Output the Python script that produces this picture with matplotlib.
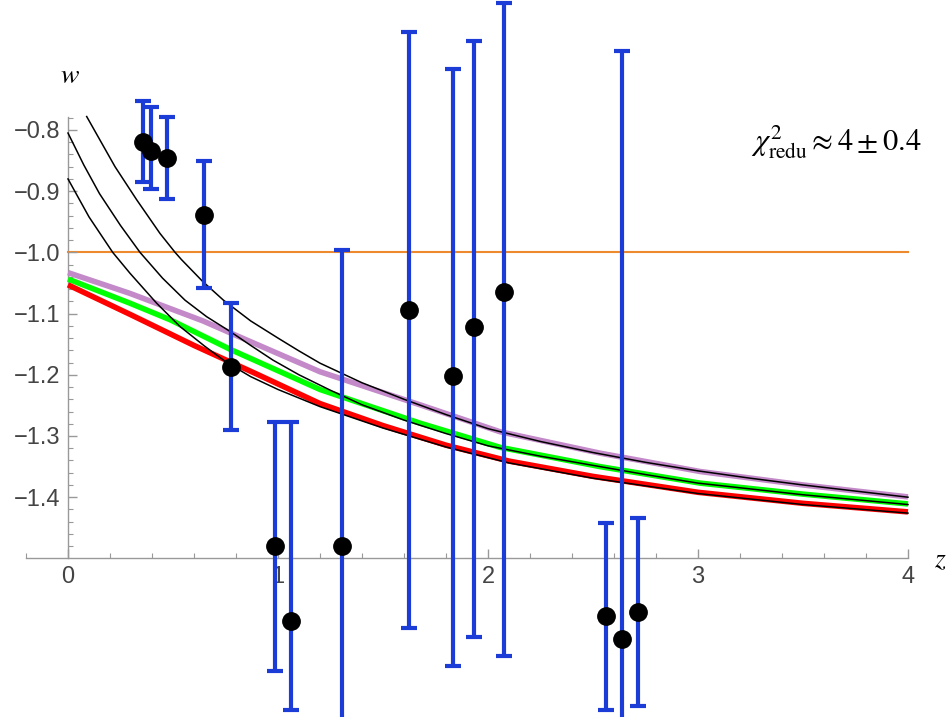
import matplotlib
matplotlib.use("Agg")
import matplotlib.pyplot as plt
import numpy as np
from matplotlib.ticker import FixedLocator, FuncFormatter

plt.rcParams['mathtext.fontset'] = 'stix'
plt.rcParams['font.family'] = ['Liberation Sans', 'DejaVu Sans']
plt.rcParams['xtick.labelsize'] = 17
plt.rcParams['ytick.labelsize'] = 17
plt.rcParams['axes.unicode_minus'] = True

# ---- data ----
z_pts = [0.356, 0.394, 0.470, 0.648, 0.776, 0.986, 1.060, 1.306, 1.624, 1.835, 1.933, 2.076, 2.560, 2.636, 2.713]
w_pts = [-0.819, -0.834, -0.845, -0.939, -1.187, -1.480, -1.602, -1.480, -1.094, -1.202, -1.122, -1.065, -1.594, -1.632, -1.588]
w_high = [-0.7526, -0.763, -0.779, -0.850, -1.083, -1.2766, -1.2766, -0.996, -0.6394, -0.7003, -0.654, -0.593, -1.4416, -0.6704, -1.4346]
w_low = [-0.8855, -0.897, -0.913, -1.0577, -1.290, -1.6835, -1.748, -1.963, -1.614, -1.675, -1.629, -1.660, -1.748, -2.600, -1.7407]

z_purple = [0, 0.295, 0.643, 0.776, 1.2, 1.676, 2.057, 2.533, 3.01, 3.5, 4.0]
w_purple = [-1.033, -1.067, -1.112, -1.132, -1.195, -1.249, -1.293, -1.328, -1.358, -1.380, -1.3995]

z_green = [0, 0.295, 0.486, 0.776, 1.2, 1.676, 2.057, 2.533, 3.01, 3.5, 4.0]
w_green = [-1.0435, -1.083, -1.110, -1.159, -1.224, -1.279, -1.3185, -1.350, -1.377, -1.395, -1.411]

z_red = [0, 0.3, 0.6, 0.9, 1.2, 1.5, 1.8, 2.1, 2.5, 3.0, 3.5, 4.0]
w_red = [-1.053, -1.102, -1.152, -1.199, -1.247, -1.283, -1.315, -1.341, -1.366, -1.392, -1.410, -1.424]

z_blackA = [0.089, 0.224, 0.327, 0.438, 0.51, 0.541, 0.64, 0.74, 0.87, 1.0, 1.1, 1.2, 1.4, 1.6,
            1.8, 2.0, 2.25, 2.5, 2.75, 3.0, 3.25, 3.5, 3.75, 4.0]
w_blackA = [-0.778, -0.860, -0.914, -0.969, -1.0, -1.012, -1.047, -1.078, -1.112, -1.140, -1.161, -1.181,
            -1.213, -1.240, -1.265, -1.288, -1.309, -1.327, -1.343, -1.357, -1.369, -1.380, -1.390, -1.400]

z_blackB = [0, 0.075, 0.15, 0.25, 0.343, 0.45, 0.557, 0.66, 0.771, 0.87, 0.976, 1.1, 1.248, 1.4, 1.6,
            1.8, 2.0, 2.25, 2.5, 2.75, 3.0, 3.5, 4.0]
w_blackB = [-0.805, -0.857, -0.904, -0.956, -1.0, -1.042, -1.078, -1.105, -1.129, -1.152, -1.176, -1.200,
            -1.225, -1.249, -1.274, -1.296, -1.316, -1.333, -1.348, -1.363, -1.377, -1.396, -1.412]

z_blackC = [0, 0.1, 0.213, 0.295, 0.422, 0.533, 0.65, 0.756, 0.87, 1.0, 1.2, 1.5, 1.8, 2.1, 2.5,
            3.0, 3.5, 4.0]
w_blackC = [-0.880, -0.942, -1.0, -1.034, -1.083, -1.121, -1.153, -1.180, -1.203, -1.224, -1.252,
            -1.287, -1.318, -1.344, -1.369, -1.394, -1.412, -1.426]

z_const = [0, 4]
w_const = [-1.0, -1.0]

x_major = [0, 1, 2, 3, 4]
y_major = [-1.4, -1.3, -1.2, -1.1, -1.0, -0.9, -0.8]

# ---- figure ----
fig = plt.figure(figsize=(9.51, 7.17), dpi=100)
ax = fig.add_axes([0, 0, 1, 1])
ax.set_xlim(-68 / 210, 883 / 210)
ax.set_ylim(-0.8 - 587 / 612, -0.8 + 130 / 612)

ax.plot(z_const, w_const, color='#EE8A2E', lw=1.5, zorder=1)

ax.plot(z_purple, w_purple, color='#C389C9', lw=4.0, solid_capstyle='butt', zorder=2)
ax.plot(z_green, w_green, color='#00FF00', lw=4.0, solid_capstyle='butt', zorder=2)
ax.plot(z_red, w_red, color='#FF0000', lw=4.0, solid_capstyle='butt', zorder=2)

for zz, ww in [(z_blackA, w_blackA), (z_blackB, w_blackB), (z_blackC, w_blackC)]:
    ax.plot(zz, ww, color='black', lw=1.1, zorder=3)

w_arr = np.array(w_pts)
yerr = [w_arr - np.array(w_low), np.array(w_high) - w_arr]
ax.errorbar(z_pts, w_pts, yerr=yerr, fmt='none', ecolor='#1C3CD8', elinewidth=3.0,
            capsize=5.8, capthick=3.0, zorder=4, clip_on=False)
ax.plot(z_pts, w_pts, 'o', color='black', markersize=12.5, zorder=5)

# axes styling
for s in ['top', 'right']:
    ax.spines[s].set_visible(False)
ax.spines['left'].set_position(('data', 0))
ax.spines['bottom'].set_position(('data', -1.5))
ax.spines['left'].set_bounds(-1.5, -0.778)
ax.spines['bottom'].set_bounds(-0.2, 4.0)
for s in ['left', 'bottom']:
    ax.spines[s].set_color('#999999')
    ax.spines[s].set_linewidth(1.0)
    ax.spines[s].set_zorder(0.5)

ax.xaxis.set_major_locator(FixedLocator(x_major))
ax.xaxis.set_minor_locator(FixedLocator(np.round(np.arange(-0.2, 4.001, 0.2), 3)))
ax.yaxis.set_major_locator(FixedLocator(y_major))
ax.yaxis.set_minor_locator(FixedLocator(np.round(np.arange(-1.48, -0.779, 0.02), 3)))
ax.xaxis.set_major_formatter(FuncFormatter(lambda v, p: '%d' % round(v)))
ax.yaxis.set_major_formatter(FuncFormatter(lambda v, p: ('%.1f' % v).replace('-', '\u2212')))
ax.tick_params(which='major', direction='in', length=6.5, width=1.0, color='#999999',
               labelsize=17, labelcolor='#444444', pad=5.5)
ax.tick_params(which='minor', direction='in', length=3.6, width=0.8, color='#999999')

fig.text(70 / 951, 1 - 76 / 717, r'$w$', fontsize=20, ha='center', va='center')
fig.text(940 / 951, 1 - 560 / 717, r'$z$', fontsize=20, ha='center', va='center')
fig.text(836 / 951, 1 - 142 / 717, r'$\chi^2_{\mathrm{redu}} \approx 4 \pm 0.4$', fontsize=22,
         ha='center', va='center')

fig.savefig('out.png', dpi=100)
